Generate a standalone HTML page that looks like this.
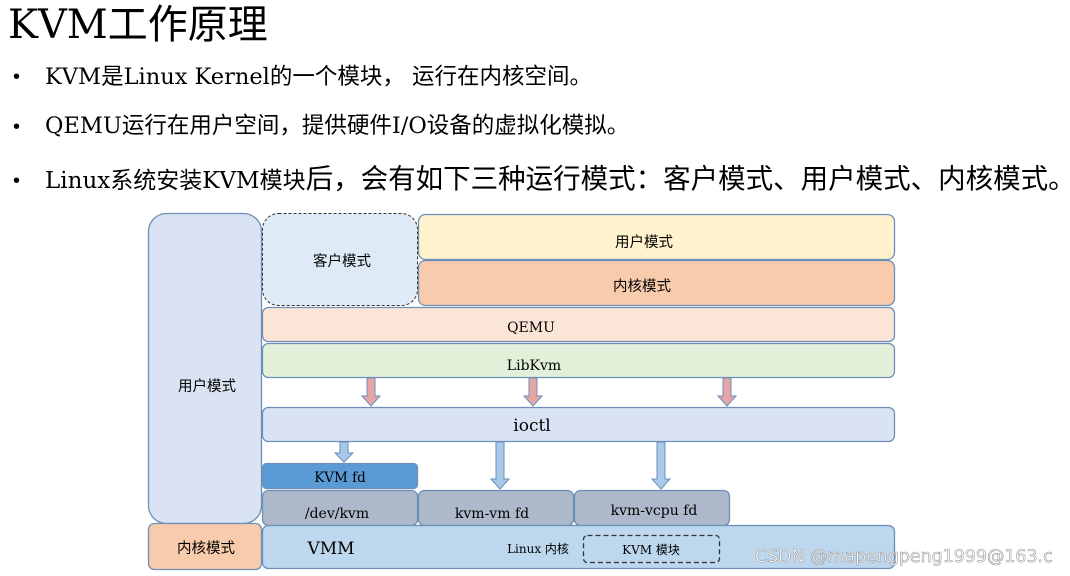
<!DOCTYPE html>
<html><head><meta charset="utf-8"><style>
body{margin:0;width:1070px;height:576px;background:#fff;overflow:hidden;position:relative;font-family:"DejaVu Serif","Noto Sans CJK SC",serif;color:#000}
.t{position:absolute;white-space:nowrap}
</style></head><body>
<div class="t" style="left:8px;top:1px;font-size:40px;line-height:48px">KVM工作原理</div>
<div class="t" style="left:13px;top:63px;font-size:20px;line-height:28px;font-family:'Liberation Sans',sans-serif">•</div>
<div class="t" style="left:45px;top:62px;font-size:22.5px;line-height:30px">KVM是Linux Kernel的一个模块， 运行在内核空间。</div>
<div class="t" style="left:13px;top:113px;font-size:20px;line-height:28px;font-family:'Liberation Sans',sans-serif">•</div>
<div class="t" style="left:45px;top:111px;font-size:22.5px;line-height:30px">QEMU运行在用户空间，提供硬件I/O设备的虚拟化模拟。</div>
<div class="t" style="left:13px;top:166px;font-size:20px;line-height:30px;font-family:'Liberation Sans',sans-serif">•</div>
<div class="t" style="left:45px;top:162px;line-height:34px"><span style="font-size:23px">Linux系统安装KVM模块</span><span style="font-size:27.5px">后，会有如下三种运行模式：客户模式、用户模式、内核模式。</span></div>
<svg width="1070" height="576" style="position:absolute;left:0;top:0" font-family="DejaVu Serif, Noto Sans CJK SC, serif">
<g stroke="#6d8fb8" stroke-width="1.3">
<rect x="148.5" y="213.5" width="113" height="310" rx="18" fill="#dae3f3"/>
<rect x="148.5" y="523.5" width="113" height="46" rx="6" fill="#f8cbad"/>
<rect x="418.5" y="214.5" width="476" height="45" rx="7" fill="#fff2cc"/>
<rect x="418.5" y="260.5" width="476" height="45" rx="7" fill="#f8cbad"/>
<rect x="262.5" y="307.5" width="632" height="34" rx="6" fill="#fbe5d6"/>
<rect x="262.5" y="343.5" width="632" height="34" rx="6" fill="#e2f0d9"/>
<rect x="262.5" y="407.5" width="632" height="34" rx="6" fill="#dae3f3"/>
<rect x="262.5" y="463.5" width="155" height="25" rx="4" fill="#5b9bd5"/>
<rect x="262.5" y="490.5" width="155" height="35" rx="6" fill="#adb9ca"/>
<rect x="418.5" y="490.5" width="155" height="35" rx="6" fill="#adb9ca"/>
<rect x="574.5" y="490.5" width="155" height="35" rx="6" fill="#adb9ca"/>
<rect x="262.5" y="525.5" width="632" height="43" rx="6" fill="#bdd7ee"/>
</g>
<rect x="262.5" y="213.5" width="155" height="92" rx="16" fill="#deebf7" stroke="#333" stroke-dasharray="3,2"/>
<rect x="583.5" y="535.5" width="136" height="27" rx="4" fill="none" stroke="#333" stroke-dasharray="5,3" stroke-width="1.3"/>
<g fill="#e6a6a8" stroke="#6d8fb8" stroke-width="1">
<path d="M367 378h8v18h5l-9 10-9-10h5z"/>
<path d="M529 378h8v18h5l-9 10-9-10h5z"/>
<path d="M723 378h8v18h5l-9 10-9-10h5z"/>
</g>
<g fill="#a9c9ea" stroke="#6d8fb8" stroke-width="1">
<path d="M340 442h8v11h5l-9 9-9-9h5z"/>
<path d="M496 442h8v37h5l-9 10-9-10h5z"/>
<path d="M657 442h8v37h5l-9 10-9-10h5z"/>
</g>
<g font-size="14.5" text-anchor="middle">
<text x="207" y="391">用户模式</text>
<text x="206" y="553">内核模式</text>
<text x="342" y="266">客户模式</text>
<text x="644" y="247">用户模式</text>
<text x="642" y="291">内核模式</text>
<text x="531" y="332" font-size="14">QEMU</text>
<text x="534" y="370" font-size="14">LibKvm</text>
<text x="532" y="431" font-size="17">ioctl</text>
<text x="340" y="482" font-size="13.5">KVM fd</text>
<text x="337" y="518" font-size="14">/dev/kvm</text>
<text x="492" y="518" font-size="14">kvm-vm fd</text>
<text x="654" y="515" font-size="14">kvm-vcpu fd</text>
<text x="331" y="554" font-size="17">VMM</text>
<text x="538" y="553" font-size="12">Linux 内核</text>
<text x="651" y="554" font-size="12">KVM 模块</text>
</g>
<text x="755" y="562" font-size="17.4" fill="#fff" stroke="#999" stroke-width="0.6" font-family="DejaVu Sans, sans-serif">CSDN @mapengpeng1999@163.c</text>
</svg>
</body></html>
